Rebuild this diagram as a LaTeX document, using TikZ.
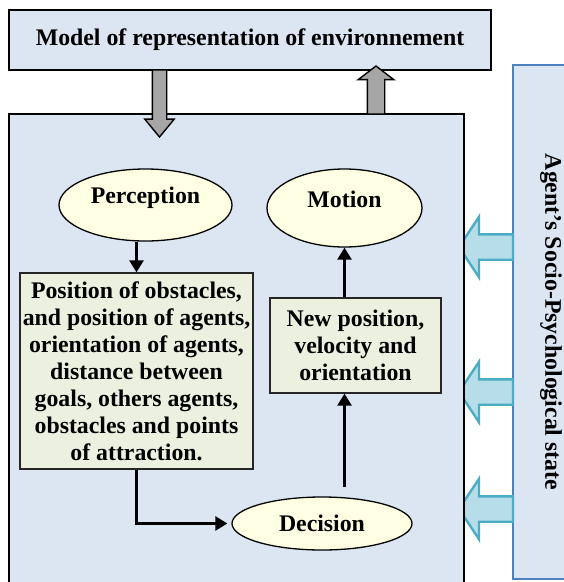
\documentclass[tikz,border=0pt]{standalone}
\usepackage{fontspec}
\setmainfont{Liberation Serif}
\usetikzlibrary{arrows.meta,positioning,calc,shapes.geometric,shapes.arrows}
\definecolor{FrameBlue}{HTML}{DCE6F2}
\definecolor{EdgeBlue}{HTML}{4F81BD}
\definecolor{NoteGreen}{HTML}{EBF1DE}
\definecolor{OvalYellow}{HTML}{FFFFE3}
\definecolor{PipeGray}{HTML}{A6A6A6}
\definecolor{PipeCyan}{HTML}{B7DEE8}
\definecolor{PipeCyanEdge}{HTML}{4BACC6}
\tikzset{
  bigfont/.style={font=\fontsize{23.8}{27}\selectfont\bfseries},
  framebox/.style={draw=black,line width=1.5pt,fill=FrameBlue,inner sep=0pt,outer sep=0pt},
  notebox/.style={draw=black!85,line width=1.3pt,fill=NoteGreen,align=center,bigfont,inner sep=0pt},
  oval/.style={ellipse,draw=black,line width=1.3pt,fill=OvalYellow,bigfont,inner sep=0pt},
  flowarrow/.style={-{Triangle[length=12pt,width=14pt]},line width=2.6pt},
  grayblock/.style={single arrow,draw=black,line width=1.4pt,fill=PipeGray,outer sep=0pt,
    single arrow head indent=0pt,anchor=tail},
  cyanblock/.style={single arrow,draw=PipeCyanEdge,line width=2.4pt,fill=PipeCyan,outer sep=0pt,
    inner sep=11.5pt,minimum height=54pt,minimum width=58pt,single arrow head extend=17.5pt,
    single arrow tip angle=113,shape border rotate=180,anchor=tail}
}

\begin{document}
\begin{tikzpicture}[x=1pt,y=-1pt]
  \useasboundingbox (0,0) rectangle (564,582);
  \clip (0,0) rectangle (564,582);

  % side panel with the three inputs
  \node[framebox,draw=EdgeBlue,line width=2.6pt,bigfont,rotate=-90,minimum width=514,minimum height=76] (state) at (551,322) {Agent’s Socio-Psychological state};
  \foreach \ypos in {247,392,509}
    \node[cyanblock] at (state.south |- 0,\ypos) {};

  \node[framebox,line width=1.6pt,minimum width=455,minimum height=490,anchor=north west] (world) at (9,114) {};
  \node[framebox,bigfont,minimum width=482,minimum height=60] (env) at (250,40) {Model of representation of environnement};

  \node[grayblock,inner sep=6.5pt,minimum height=67pt,minimum width=28pt,single arrow head extend=7.5pt,
    single arrow tip angle=79,shape border rotate=270] (down) at (env.south -| 159.5,0) {};
  \node[grayblock,inner sep=8pt,minimum height=48pt,minimum width=34pt,single arrow head extend=9pt,
    single arrow tip angle=105,shape border rotate=90] (up) at (world.north -| 376,0) {};

  \node[oval,minimum width=173,minimum height=72,text height=14pt,text depth=18pt] (perc) at (145.5,205) {Perception};
  \node[oval,minimum width=155,minimum height=78,text height=14pt,text depth=16pt] (mot) at (344.5,208) {Motion};
  \node[oval,minimum width=180,minimum height=53] (dec) at (322,523.5) {Decision};

  \node[notebox,minimum width=233,minimum height=196] (obs) at (136.5,371) {Position of obstacles,\\and position of agents,\\orientation of agents,\\distance between\\goals, others agents,\\obstacles and points\\of attraction.};
  \node[notebox,minimum width=171,minimum height=95] (newpos) at (355.5,345.5) {New position,\\velocity and\\orientation};

  \draw[flowarrow] (obs.north |- perc.south) -- (obs.north);
  \draw[flowarrow] (newpos.north -| mot.south) -- (mot.south);
  \draw[flowarrow,shorten <=9pt] (dec.north -| mot.south) -- (newpos.south -| mot.south);
  \draw[flowarrow,shorten >=4pt] (obs.south) |- (dec.west);
\end{tikzpicture}
\end{document}
